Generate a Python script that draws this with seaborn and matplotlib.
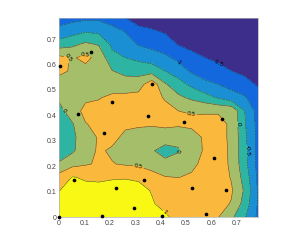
import numpy as np
import matplotlib
matplotlib.use("Agg")
import matplotlib.pyplot as plt
import seaborn as sns

# grid of the field (rows: top y=0.78 -> bottom y=0)
x_grid = np.linspace(0, 0.783, 16)
y_grid = np.linspace(0, 0.783, 16)
z_rows = [
    [-1.15, -1.15, -1.1, -1.1, -1.2, -1.5, -1.65, -1.75, -1.85, -1.9, -1.95, -2.0, -2.0, -2.0, -2.0, -2.0],
    [-0.9, -0.7, -0.55, -0.62, -0.85, -1.02, -1.4, -1.45, -1.55, -1.75, -1.85, -1.95, -2.0, -2.0, -2.0, -2.0],
    [-0.25, -0.1, 0.1, -0.03, -0.6, -0.8, -1.03, -1.15, -1.3, -1.52, -1.65, -1.75, -1.85, -1.95, -2.0, -2.0],
    [0.65, 0.45, 0.62, 0.35, -0.35, -0.5, -0.62, -0.75, -0.88, -1.15, -1.35, -1.5, -1.6, -1.7, -1.8, -1.9],
    [0.6, 0.45, 0.35, 0.25, 0.02, -0.15, -0.2, -0.2, -0.5, -0.75, -1.07, -1.2, -1.35, -1.5, -1.6, -1.7],
    [0.3, 0.3, 0.35, 0.3, 0.25, 0.25, 0.3, 0.8, 0.05, -0.3, -0.62, -0.9, -1.0, -1.15, -1.35, -1.55],
    [0.1, 0.25, 0.42, 0.47, 0.6, 0.62, 0.65, 0.7, 0.45, 0.1, -0.1, -0.3, -0.55, -0.8, -0.95, -1.3],
    [-0.2, 0.3, 0.62, 0.65, 0.65, 0.7, 0.72, 0.75, 0.65, 0.5, 0.47, 0.46, 0.45, 0.42, -0.5, -1.2],
    [-0.25, -0.05, 0.48, 0.6, 0.7, 0.58, 0.55, 0.55, 0.6, 0.58, 0.58, 0.62, 0.65, 0.42, -0.45, -1.15],
    [-0.3, -0.1, 0.25, 0.55, 0.62, 0.4, 0.35, 0.25, 0.25, 0.15, 0.35, 0.55, 0.65, 0.42, -0.4, -1.15],
    [-0.25, -0.08, 0.3, 0.56, 0.44, 0.35, 0.2, 0.05, -0.2, -0.05, 0.3, 0.55, 0.7, 0.42, -0.35, -1.15],
    [0.05, 0.35, 0.45, 0.56, 0.52, 0.45, 0.4, 0.3, 0.15, 0.3, 0.4, 0.62, 0.72, 0.42, -0.33, -1.15],
    [0.7, 1.02, 0.95, 0.93, 0.97, 0.98, 0.95, 0.68, 0.52, 0.49, 0.56, 0.72, 0.72, 0.47, -0.2, -1.1],
    [0.99, 1.12, 1.12, 1.12, 1.12, 1.12, 1.1, 0.98, 0.85, 0.78, 0.75, 0.75, 0.7, 0.55, -0.07, -1.05],
    [1.2, 1.25, 1.25, 1.25, 1.25, 1.25, 1.2, 1.03, 0.9, 0.8, 0.75, 0.72, 0.65, 0.47, -0.2, -1.05],
    [1.25, 1.3, 1.3, 1.3, 1.3, 1.3, 1.25, 1.2, 1.05, 0.9, 0.8, 0.7, 0.52, 0.1, -0.45, -1.1],
]

# measurement points
pts_x = [0.125, 0.004, 0.367, 0.207, 0.076, 0.349, 0.641, 0.492, 0.178, 0.611,
         0.060, 0.224, 0.336, 0.295, 0.001, 0.169, 0.525, 0.657, 0.579, 0.407]
pts_y = [0.650, 0.596, 0.524, 0.452, 0.405, 0.399, 0.385, 0.375, 0.330, 0.232,
         0.146, 0.113, 0.146, 0.034, 0.000, 0.004, 0.113, 0.106, 0.012, 0.004]

levels = [-1.5, -1, -0.5, 0, 0.5, 1]
band_colors = ["#3d2e8c", "#1268dc", "#1b8fd3", "#2eb4a2", "#a5be69", "#fab93c", "#f8f814"]
tick_vals = [0, 0.1, 0.2, 0.3, 0.4, 0.5, 0.6, 0.7]
tick_text = ["0", "0.1", "0.2", "0.3", "0.4", "0.5", "0.6", "0.7"]

sns.set_style("white")
plt.rcParams["font.family"] = ["Liberation Sans", "DejaVu Sans"]

Z = np.flipud(np.array(z_rows))
X, Y = np.meshgrid(x_grid, y_grid)

fig = plt.figure(figsize=(3.06, 2.44), dpi=100)
ax = fig.add_axes([59 / 306, 27 / 244, 199 / 306, 199 / 244])

ax.contourf(X, Y, Z, levels=[-5] + levels + [5], colors=band_colors)
cs = ax.contour(X, Y, Z, levels=levels, colors="#333333", linewidths=0.35)
ax.clabel(cs, fmt="%g", fontsize=4.5, colors="k", inline=True, inline_spacing=1)

sns.scatterplot(x=pts_x, y=pts_y, color="k", s=7, linewidth=0, ax=ax,
                legend=False, zorder=5, clip_on=False)

ax.set_xlim(0, 0.783)
ax.set_ylim(0, 0.783)
ax.set_xticks(tick_vals)
ax.set_xticklabels(tick_text)
ax.set_yticks(tick_vals)
ax.set_yticklabels(tick_text)
ax.tick_params(direction="in", length=2, width=0.4, labelsize=5,
               colors="#444444", pad=2)
for sp in ax.spines.values():
    sp.set_color("#b0b0b0")
    sp.set_linewidth(0.5)

fig.savefig("out.png", dpi=100)
